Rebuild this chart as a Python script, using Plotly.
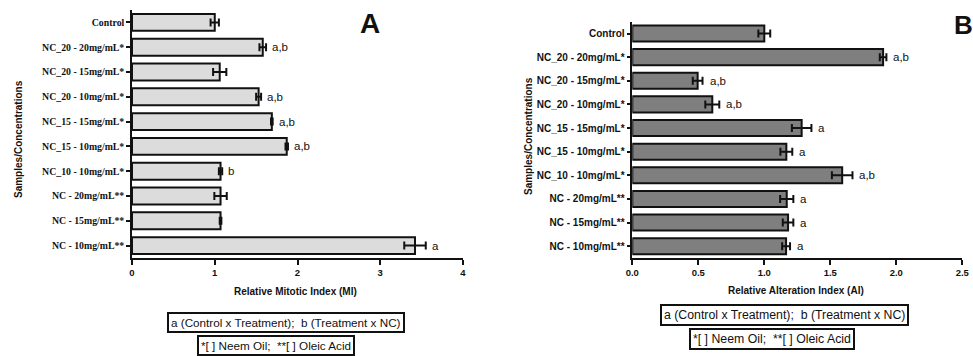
import plotly.graph_objects as go

W, H = 973, 356

categories = ["Control", "NC_20 - 20mg/mL*", "NC_20 - 15mg/mL*", "NC_20 - 10mg/mL*",
              "NC_15 - 15mg/mL*", "NC_15 - 10mg/mL*", "NC_10 - 10mg/mL*",
              "NC - 20mg/mL**", "NC - 15mg/mL**", "NC - 10mg/mL**"]

mi_values = [1.00, 1.58, 1.06, 1.53, 1.69, 1.87, 1.07, 1.07, 1.07, 3.42]
mi_errors = [0.05, 0.04, 0.08, 0.03, 0.01, 0.015, 0.02, 0.075, 0.01, 0.13]
mi_labels = ["", "a,b", "", "a,b", "a,b", "a,b", "b", "", "", "a"]

ai_values = [1.00, 1.90, 0.495, 0.606, 1.283, 1.167, 1.59, 1.17, 1.18, 1.165]
ai_errors = [0.045, 0.025, 0.037, 0.053, 0.074, 0.045, 0.078, 0.05, 0.04, 0.03]
ai_labels = ["", "a,b", "a,b", "a,b", "a", "a", "a,b", "a", "a", "a"]

legend_line1 = "a (Control x Treatment);&nbsp; b (Treatment x NC)"
legend_line2 = "*[ ] Neem Oil;&nbsp; **[ ] Oleic Acid"


def px(p):
    return p / W


def py(p):
    return 1 - p / H


fig = go.Figure()

fig.add_trace(go.Bar(
    y=categories, x=mi_values, orientation="h",
    marker=dict(color="#dcdcdc", line=dict(color="#111111", width=2)),
    error_x=dict(type="data", array=mi_errors, color="#111111", thickness=2, width=4),
    xaxis="x", yaxis="y", showlegend=False,
))
fig.add_trace(go.Bar(
    y=categories, x=ai_values, orientation="h",
    marker=dict(color="#7f7f7f", line=dict(color="#111111", width=2)),
    error_x=dict(type="data", array=ai_errors, color="#111111", thickness=2, width=4),
    xaxis="x2", yaxis="y2", showlegend=False,
))

n = len(categories)
axis_common = dict(showline=True, linecolor="#111111", linewidth=1.5,
                   ticks="outside", tickwidth=1.5, tickcolor="#111111",
                   showgrid=False, zeroline=False, automargin=False)

fig.update_layout(
    width=W, height=H,
    margin=dict(l=0, r=0, t=0, b=0),
    paper_bgcolor="white", plot_bgcolor="white",
    bargap=0.32,
    font=dict(family="Liberation Sans, Arial, sans-serif", color="#111111"),
    xaxis=dict(domain=[px(132), px(463)], range=[0, 4], dtick=1, anchor="y", ticklen=5,
               tickfont=dict(size=9.5, weight="bold", family="Liberation Sans"),
               **axis_common),
    yaxis=dict(domain=[py(258), py(10)], type="category", range=[n - 0.5, -0.5],
               anchor="x", ticklen=4,
               tickfont=dict(size=9.8, weight="bold", family="Liberation Serif"),
               **axis_common),
    xaxis2=dict(domain=[px(632.3), px(962.3)], range=[0, 2.5], dtick=0.5, tickformat=".1f",
                anchor="y2", ticklen=5,
                tickfont=dict(size=9.5, weight="bold", family="Liberation Sans"),
                **axis_common),
    yaxis2=dict(domain=[py(258), py(21.7)], type="category", range=[n - 0.5, -0.5],
                anchor="x2", ticklen=4,
                tickfont=dict(size=10, weight="bold", family="Liberation Sans"),
                **axis_common),
)

annotations = []
for cat, v, e, lab in zip(categories, mi_values, mi_errors, mi_labels):
    if lab:
        annotations.append(dict(x=v + e, y=cat, xref="x", yref="y", text=lab,
                                showarrow=False, xanchor="left", yanchor="middle", xshift=4,
                                font=dict(size=11.5, family="Liberation Sans")))
for cat, v, e, lab in zip(categories, ai_values, ai_errors, ai_labels):
    if lab:
        annotations.append(dict(x=v + e, y=cat, xref="x2", yref="y2", text=lab,
                                showarrow=False, xanchor="left", yanchor="middle", xshift=5,
                                font=dict(size=11.5, family="Liberation Sans")))

txt = dict(xref="paper", yref="paper", showarrow=False, xanchor="center", yanchor="middle")
# axis titles and panel letters
annotations += [
    dict(x=px(295), y=py(291), text="<b>Relative Mitotic Index (MI)</b>", font=dict(size=10), **txt),
    dict(x=px(796), y=py(290), text="<b>Relative Alteration Index (AI)</b>", font=dict(size=10), **txt),
    dict(x=px(18), y=py(139), text="<b>Samples/Concentrations</b>", textangle=-90,
         font=dict(size=10), **txt),
    dict(x=px(528), y=py(136), text="<b>Samples/Concentrations</b>", textangle=-90,
         font=dict(size=10), **txt),
    dict(x=px(370), y=py(24), text="<b>A</b>", font=dict(size=28), **txt),
    dict(x=px(963), y=py(25), text="<b>B</b>", font=dict(size=26), **txt),
]

# legend boxes
box = dict(txt, bordercolor="#111111", borderwidth=2, borderpad=2, bgcolor="white")
annotations += [
    dict(x=px(286), y=py(322.7), text=legend_line1, font=dict(size=11.7), **box),
    dict(x=px(275.5), y=py(345.3), text=legend_line2, font=dict(size=11.7), **box),
    dict(x=px(784), y=py(315), text=legend_line1, font=dict(size=12.3), **box),
    dict(x=px(771.5), y=py(339), text=legend_line2, font=dict(size=12.3), **box),
]

fig.update_layout(annotations=annotations)
fig.write_html("out.html", config={"displayModeBar": False},
               post_script="document.body.style.margin='0';document.body.style.overflow='hidden';")
